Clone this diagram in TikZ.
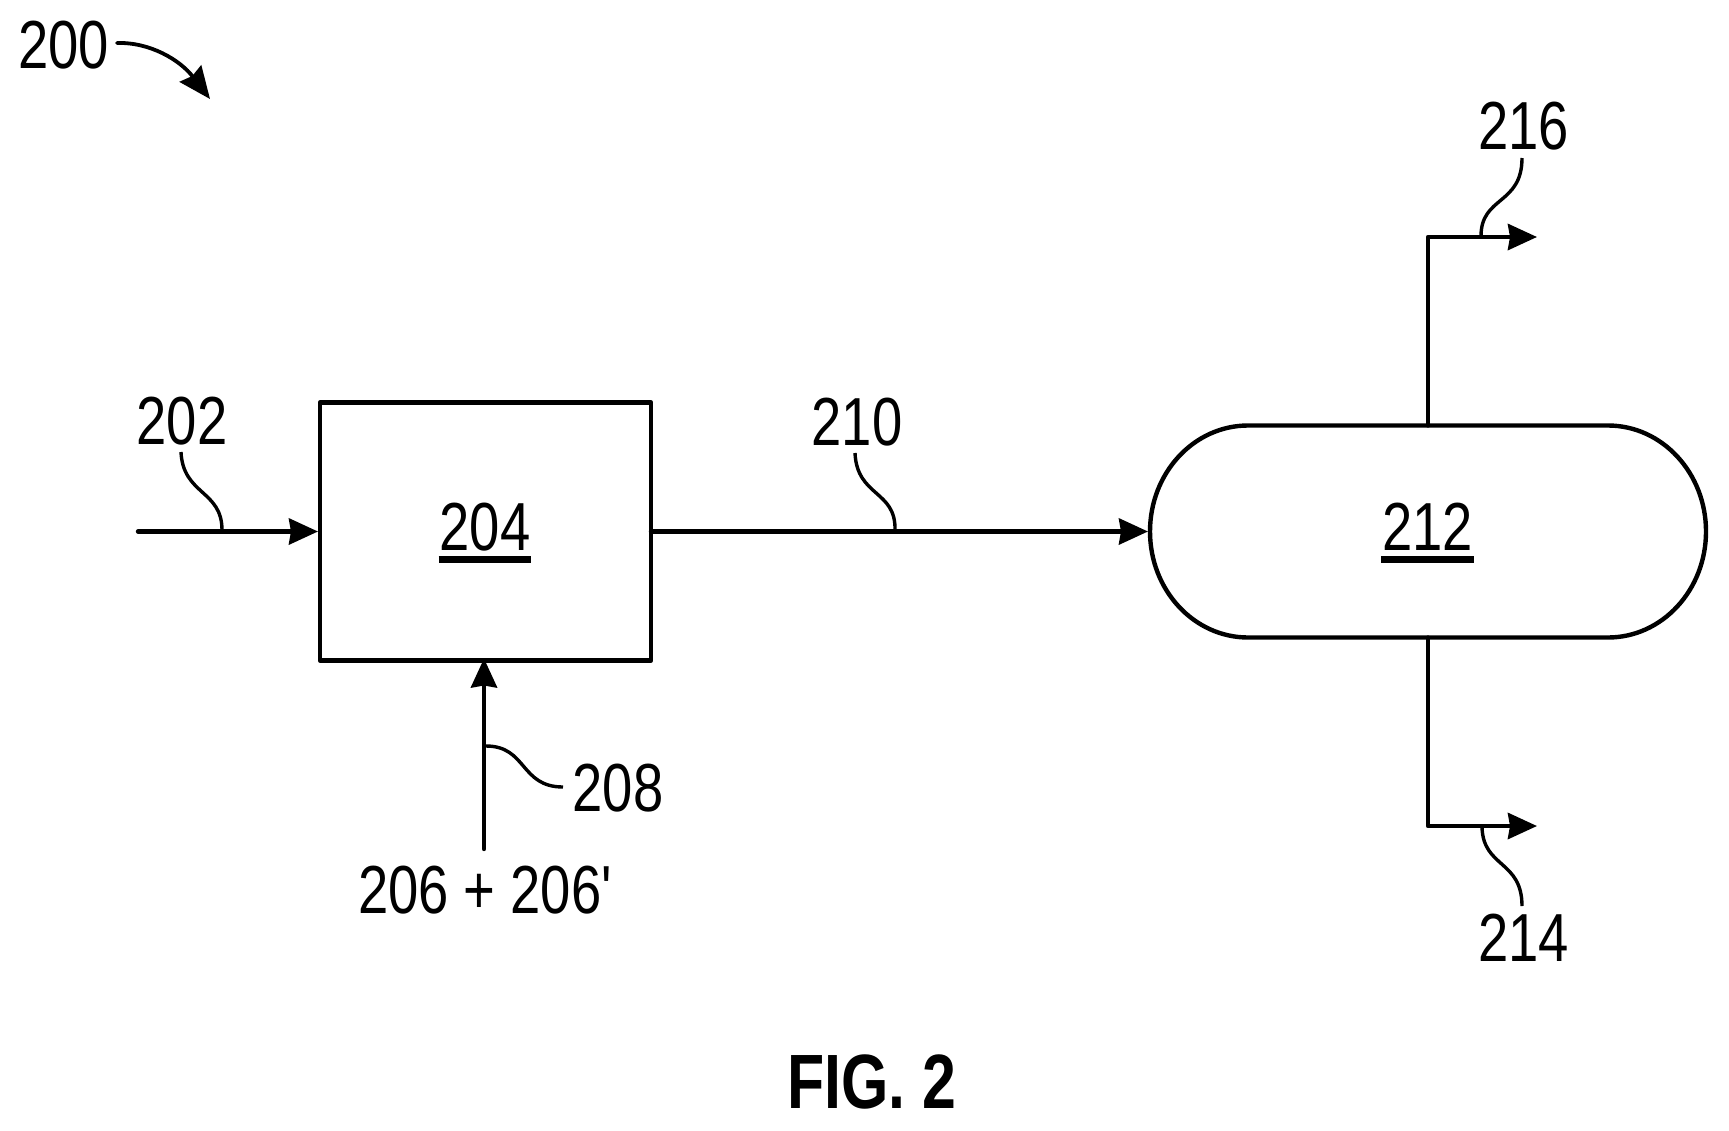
\documentclass[tikz,border=0pt]{standalone}
\usepackage{fontspec}
\newfontfamily\lblfont[FakeStretch=0.8]{Liberation Sans}
\newfontfamily\figfont[FakeStretch=0.79]{Liberation Sans Bold}
\usetikzlibrary{arrows.meta}
\tikzset{
  lbl/.style={inner sep=0pt,outer sep=0pt,text depth=0pt,font=\lblfont\fontsize{34pt}{34pt}\selectfont},
  figlbl/.style={inner sep=0pt,outer sep=0pt,text depth=0pt,font=\figfont\fontsize{38.5pt}{38.5pt}\selectfont},
  flow/.style={line width=2.2pt,line cap=round,line join=round},
  flowarrow/.style={flow,-{Stealth[length=14.5pt,width=13pt,inset=1pt]}},
  leader/.style={line width=1.7pt},
  under/.style={line width=3.3pt},
  unit/.style={draw,line width=2.2pt,line join=round,inner sep=0pt,outer sep=0pt}
}
\begin{document}
\begin{tikzpicture}[x=0.5pt,y=-0.5pt]
\useasboundingbox[fill=white] (0,0) rectangle (1729,1130);
% units
\node[unit,minimum width=165.5pt,minimum height=129pt] (box) at (485.5,531.5) {};
\node[inner sep=0pt,outer sep=0pt,minimum width=278pt,minimum height=106pt] (vessel) at (1428,531.5) {};
\draw[line width=2.2pt] ([xshift=49pt]vessel.north west) -- ([xshift=-49pt]vessel.north east)
  arc[start angle=90,end angle=-90,x radius=49pt,y radius=53pt]
  -- ([xshift=49pt]vessel.south west)
  arc[start angle=270,end angle=90,x radius=49pt,y radius=53pt] -- cycle;
% labels
\node[lbl] (n200) at (63.5,44.5) {200};
\node[lbl] (n202) at (182,420.5) {202};
\node[lbl] (n204) at (485,526.5) {204};
\node[lbl] (n208) at (618,787.5) {208};
\node[lbl] (n206) at (485,889.5) {206 + 206\char39};
\node[lbl] (n210) at (857,422) {210};
\node[lbl] (n212) at (1427.5,526.5) {212};
\node[lbl] (n214) at (1523.5,938) {214};
\node[lbl] (n216) at (1523.5,125.5) {216};
\node[figlbl] (fig) at (871.5,1082) {FIG. 2};
% underlines
\draw[under] ([shift={(-1,9.5)}]n204.south west) -- ([shift={(1,9.5)}]n204.south east);
\draw[under] ([shift={(-1,9.5)}]n212.south west) -- ([shift={(1,9.5)}]n212.south east);
% free ends
\coordinate (in202) at (138,531.5);
\coordinate (in206) at (484,849);
\coordinate (top216) at (1428,237);
\coordinate (end216) at (1537,237);
\coordinate (bot214) at (1428,826);
\coordinate (end214) at (1537,826);
% connectors
\draw[flowarrow,shorten >=1pt] (in202) -- (box.west);
\draw[flowarrow,shorten >=-1pt] (in206) -- (box.south -| in206);
\draw[flowarrow,shorten >=1pt] (box.east) -- (vessel.west);
\draw[flowarrow] (vessel.north) -- (top216) -- (end216);
\draw[flowarrow] (vessel.south) -- (bot214) -- (end214);
% leaders
\coordinate (a200) at (117,43);
\coordinate (b200) at (210,99);
\draw[line width=1.9pt,line cap=round,-{Stealth[length=16pt,width=13.5pt,inset=1.5pt]}] (a200) .. controls (150,42) and (180,60) .. (b200);
\coordinate (a202) at (181,452); \coordinate (b202) at (222,530);
\draw[leader] (a202) .. controls (183,495) and (222,490) .. (b202);
\coordinate (a208) at (486,746); \coordinate (b208) at (563,787);
\draw[leader] (a208) .. controls (527,746) and (520,787) .. (b208);
\coordinate (a210) at (855,453); \coordinate (b210) at (895,530);
\draw[leader] (a210) .. controls (857,497) and (896,490) .. (b210);
\coordinate (a216) at (1522,158); \coordinate (b216) at (1481,236);
\draw[leader] (a216) .. controls (1522,205) and (1481,196) .. (b216);
\coordinate (a214) at (1522,906); \coordinate (b214) at (1482,827);
\draw[leader] (a214) .. controls (1522,860) and (1483,868) .. (b214);
\end{tikzpicture}
\end{document}
